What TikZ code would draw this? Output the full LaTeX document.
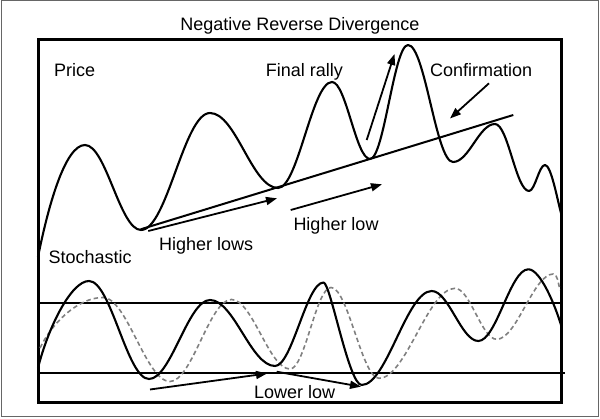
\documentclass[tikz,border=0pt]{standalone}
\usepackage{fontspec}
\setmainfont{Liberation Sans}
\usetikzlibrary{arrows.meta}
\begin{document}
\begin{tikzpicture}[x=1pt,y=-1pt,
  lbl/.style={anchor=base west,inner sep=0pt,font=\fontsize{18}{20}\selectfont},
  curve/.style={line width=2.1pt,line join=round},
  dcurve/.style={line width=1.6pt,black!50,dash pattern=on 4.5pt off 3pt},
  arr/.style={line width=1.8pt,-{Triangle[length=11pt,width=8pt]}},
]
\useasboundingbox (0,0) rectangle (600,419);
% outer border
\draw[black!60,line width=1pt] (1,1) rectangle (598,417);
% title
\node[lbl,anchor=base] (title) at (300,31) {Negative Reverse Divergence};
% inner frame
\draw[line width=2.6pt] (38.3,39.3) rectangle (561.7,402.3);
% stochastic band lines
\draw[line width=2.2pt] (38,302.7) -- (562,302.7);
\draw[line width=1.7pt] (38,373) -- (565,373);
% price curve
\draw[curve] (38,257) .. controls +(10,-50) and +(-20,0) .. (85,145)
 .. controls +(21,0) and +(-21,0) .. (141,230)
 .. controls +(26,0) and +(-26,0) .. (210,113)
 .. controls +(26,0) and +(-26,0) .. (278,188)
 .. controls +(20,0) and +(-20,0) .. (332,82)
 .. controls +(14,0) and +(-14,0) .. (370,159)
 .. controls +(14,0) and +(-14,0) .. (408,45)
 .. controls +(17,0) and +(-17,0) .. (453,162)
 .. controls +(16,0) and +(-16,0) .. (495,124)
 .. controls +(13,0) and +(-13,0) .. (529,191)
 .. controls +(6,0) and +(-6,0) .. (545,165)
 .. controls +(6,0) and +(-4,-15) .. (561,213);
% stochastic dashed
\draw[dcurve] (40,348) .. controls +(12,-25) and +(-25,0) .. (103,297.5)
 .. controls +(24,0) and +(-24,0) .. (170,381.5)
 .. controls +(22,0) and +(-22,0) .. (231.5,299.5)
 .. controls +(21,0) and +(-21,0) .. (290,369)
 .. controls +(15,0) and +(-15,0) .. (331,287.5)
 .. controls +(17,0) and +(-17,0) .. (379,378.3)
 .. controls +(27,0) and +(-27,0) .. (455,288.3)
 .. controls +(15,0) and +(-15,0) .. (496.7,339.3)
 .. controls +(20,0) and +(-20,0) .. (553.3,274)
 .. controls +(4,0) and +(-2,-8) .. (560,290);
% stochastic solid
\draw[curve] (38,368) .. controls +(10,-40) and +(-18,0) .. (89,281)
 .. controls +(22,0) and +(-22,0) .. (149,379)
 .. controls +(22,0) and +(-22,0) .. (210,300)
 .. controls +(24,0) and +(-24,0) .. (275,366)
 .. controls +(17,0) and +(-17,0) .. (323.5,282.5)
 .. controls +(7,0) and +(-13,0) .. (361.7,385)
 .. controls +(25,0) and +(-25,0) .. (431.7,291)
 .. controls +(17,0) and +(-17,0) .. (478.3,341)
 .. controls +(18,0) and +(-18,0) .. (528.3,269.3)
 .. controls +(12,0) and +(-6,-20) .. (561,325);
% trend line
\coordinate (t1) at (140.7,229.3);
\coordinate (t2) at (513.3,115);
\draw[line width=2pt] (t1) -- (t2);
% arrows
\coordinate (a1s) at (148.3,231);  \coordinate (a1e) at (277,198.3);
\coordinate (a2s) at (290.7,210);  \coordinate (a2e) at (382,184.3);
\coordinate (a3s) at (366.7,140);  \coordinate (a3e) at (394.5,54);
\coordinate (a4s) at (489,83.3);   \coordinate (a4e) at (450,118.5);
\coordinate (a5s) at (150,389.5);  \coordinate (a5e) at (267,373.5);
\coordinate (a6s) at (276.7,371.7);\coordinate (a6e) at (361,386.7);
\draw[arr] (a1s) -- (a1e);
\draw[arr] (a2s) -- (a2e);
\draw[arr] (a3s) -- (a3e);
\draw[arr] (a4s) -- (a4e);
\draw[arr] (a5s) -- (a5e);
\draw[arr] (a6s) -- (a6e);
% labels
\node[lbl] (price) at (54,76.7) {Price};
\node[lbl] (rally) at (265.7,76.7) {Final rally};
\node[lbl] (conf) at (430,76.7) {Confirmation};
\node[lbl] (stoch) at (48.3,264) {Stochastic};
\node[lbl] (hlows) at (159,250.7) {Higher lows};
\node[lbl] (hlow) at (293.3,231) {Higher low};
\node[lbl] (llow) at (254,398.3) {Lower low};
\end{tikzpicture}
\end{document}
